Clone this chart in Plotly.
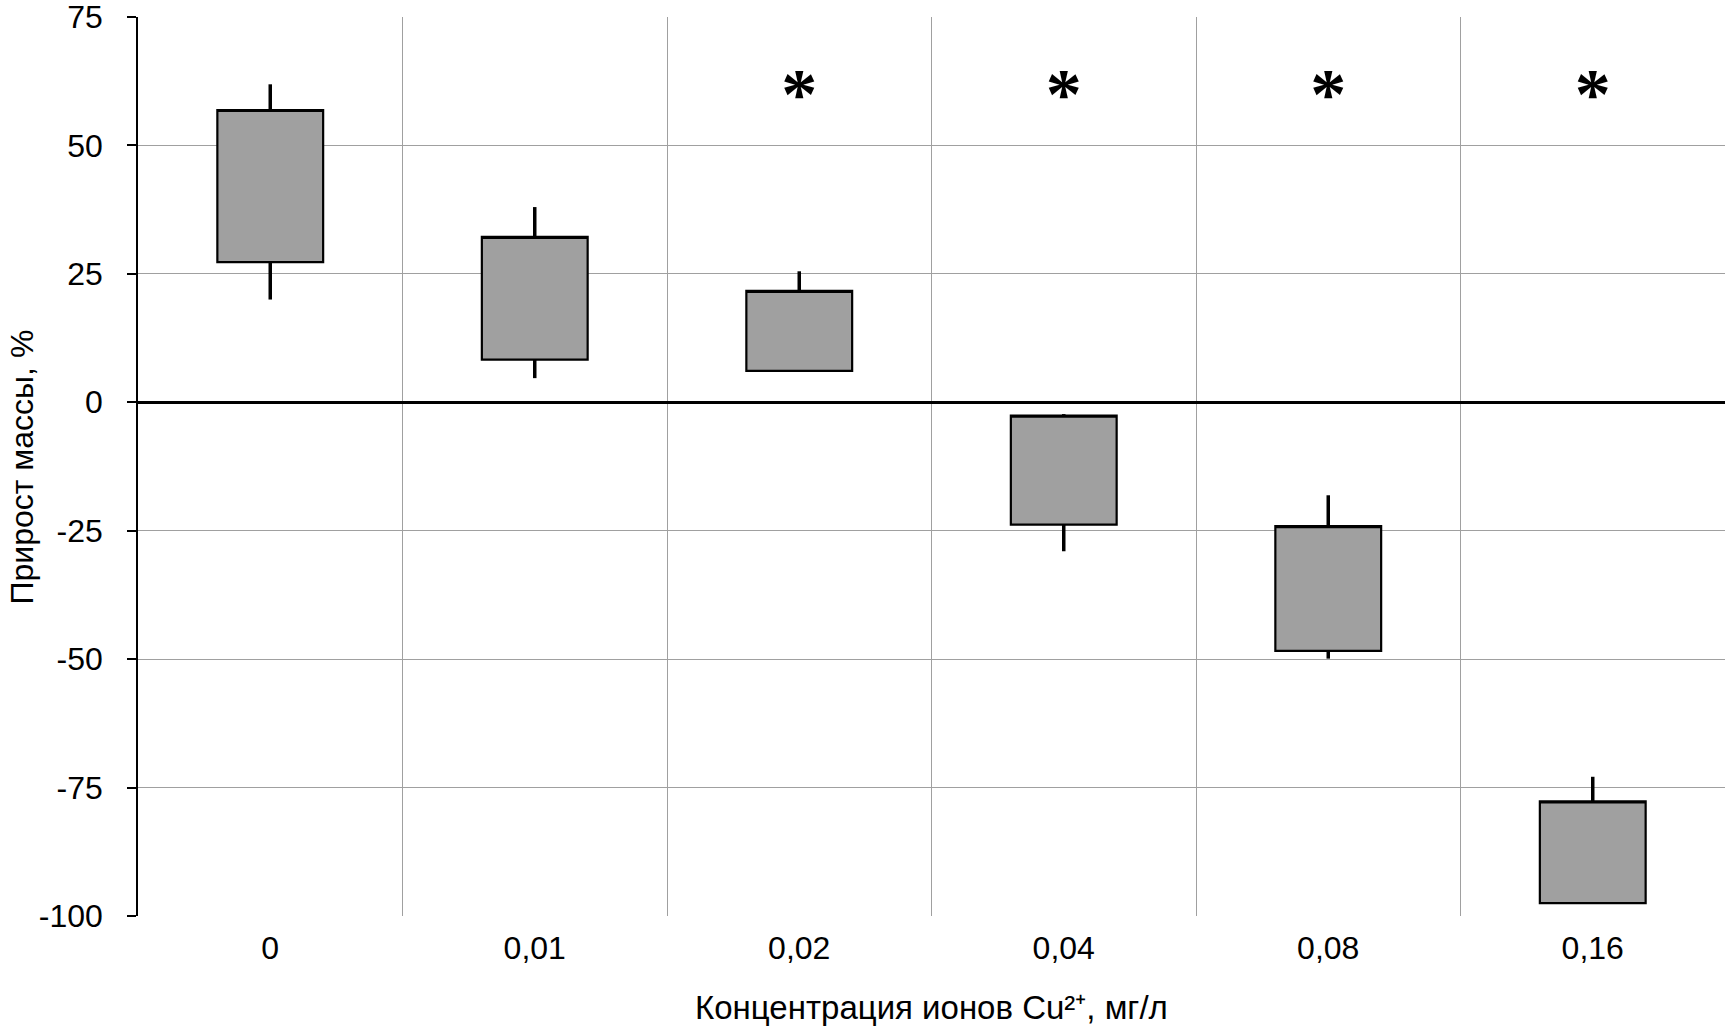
import plotly.graph_objects as go

categories = ["0", "0,01", "0,02", "0,04", "0,08", "0,16"]
whisker_high = [61.9, 38.0, 25.5, -2.3, -18.1, -72.9]
box_top = [56.9, 32.2, 21.7, -2.6, -24.1, -77.7]
box_bottom = [27.3, 8.3, 6.1, -23.8, -48.4, -97.5]
whisker_low = [20.0, 4.7, 6.1, -29.0, -49.9, -97.5]
star_categories = ["0,02", "0,04", "0,08", "0,16"]
star_level = [58.8, 58.8, 58.8, 58.8]
y_ticks = [-100, -75, -50, -25, 0, 25, 50, 75]
y_tick_labels = ["-100", "-75", "-50", "-25", "0", "25", "50", "75"]

FONT = "Liberation Sans, Arial, sans-serif"

fig = go.Figure()

# whiskers: from box edges out to high / low values
wx, wy = [], []
for c, lo, b0, b1, hi in zip(categories, whisker_low, box_bottom, box_top, whisker_high):
    wx += [c, c, None, c, c, None]
    wy += [b1, hi, None, lo, b0, None]
fig.add_trace(go.Scatter(
    x=wx, y=wy, mode="lines",
    line=dict(color="black", width=3.5),
    showlegend=False, hoverinfo="skip",
))

fig.add_trace(go.Box(
    x=categories,
    q1=box_bottom,
    median=box_top,
    q3=box_top,
    lowerfence=box_bottom,
    upperfence=box_top,
    width=0.4,
    whiskerwidth=0,
    fillcolor="#a0a0a0",
    line=dict(color="black", width=2.2),
    boxpoints=False,
    showlegend=False,
    hoverinfo="skip",
))
fig.add_trace(go.Scatter(
    x=star_categories,
    y=star_level,
    mode="text",
    text=["<b>*</b>"] * len(star_categories),
    textposition="middle center",
    textfont=dict(family="Liberation Serif, Times New Roman, serif", size=72, color="black"),
    showlegend=False,
    hoverinfo="skip",
))

fig.update_layout(
    width=1732,
    height=1031,
    margin=dict(l=138, r=7, t=17, b=115),
    paper_bgcolor="white",
    plot_bgcolor="white",
    font=dict(family=FONT, size=32, color="black"),
    xaxis=dict(
        type="category",
        categoryorder="array",
        categoryarray=categories,
        range=[-0.5, 5.5],
        tickson="boundaries",
        showgrid=True,
        gridcolor="#a0a0a0",
        gridwidth=1.3,
        ticks="",
        showline=False,
        tickfont=dict(family=FONT, size=32, color="black"),
        ticklabelstandoff=10,
        zeroline=False,
        automargin=False,
    ),
    yaxis=dict(
        range=[-100, 75],
        tickvals=y_ticks,
        ticktext=y_tick_labels,
        showgrid=True,
        gridcolor="#a0a0a0",
        gridwidth=1.3,
        zeroline=True,
        zerolinecolor="black",
        zerolinewidth=2.5,
        showline=True,
        linecolor="black",
        linewidth=1.5,
        ticks="outside",
        ticklen=9,
        tickcolor="black",
        tickwidth=1.5,
        tickfont=dict(family=FONT, size=32, color="black"),
        ticklabelstandoff=18,
        ticklabeloverflow="allow",
        automargin=False,
    ),
    annotations=[
        dict(text="Концентрация ионов Cu²⁺, мг/л", xref="paper", yref="paper",
             x=0.5, y=-0.1015, xanchor="center", yanchor="middle", showarrow=False,
             font=dict(family=FONT, size=33, color="black")),
        dict(text="Прирост массы, %", xref="paper", yref="paper",
             x=-0.0731, y=0.5, xanchor="center", yanchor="middle", textangle=-90,
             showarrow=False, font=dict(family=FONT, size=32, color="black")),
    ],
)

fig.write_html(
    "out.html",
    config={"displayModeBar": False},
    post_script="document.body.style.margin='0';document.body.style.overflow='hidden';",
)
